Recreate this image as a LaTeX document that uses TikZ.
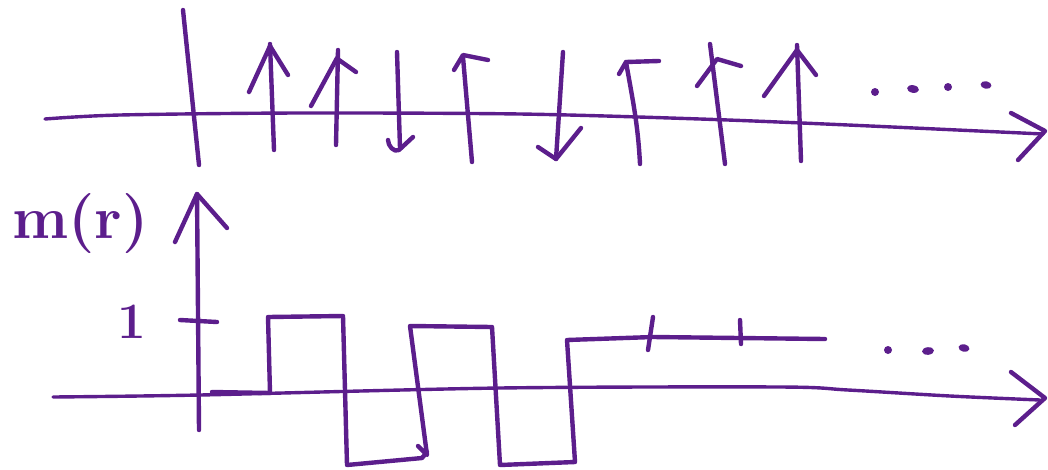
\documentclass[tikz,border=0pt]{standalone}
\definecolor{ink}{RGB}{92,30,140}
\begin{document}
\begin{tikzpicture}[x=1pt,y=-1pt,
  pen/.style={draw=ink,line width=4.4pt,line cap=round,line join=round},
  axis/.style={draw=ink,line width=3.4pt,line cap=round,line join=round},
  lbl/.style={text=ink,inner sep=0pt,anchor=base}]
\useasboundingbox (0,0) rectangle (1048,469);
% ---------- top panel ----------
\draw[axis] plot[smooth,tension=0.5] coordinates {(45,119) (120,115) (300,113) (520,114) (700,119) (848,125) (1043,134)};
\coordinate (ttip) at (1045,131);
\draw[pen] (1011,113) -- (ttip) -- (1018,160);
\draw[pen] (183,10) -- (199,165);
% spins
\draw[pen] (274,150) -- (270,44);
\draw[pen] (249,92) -- (270,46) -- (288,75);
\draw[pen] (336,145) -- (338,50);
\draw[pen] (311,106) -- (337,58);
\draw[pen] (339,60) -- (356,72);
\draw[pen] (397,52) -- (400,148);
\draw[pen] (388,140) to[out=-90,in=-150] (399,150) -- (413,137);
\draw[pen] (472,162) -- (463,57);
\draw[pen] (454,70) -- (463,55) -- (488,60);
\draw[pen] (563,52) -- (556,159);
\draw[pen] (538,147) -- (556,159) -- (581,128);
\draw[pen] (640,164) to[out=93,in=-80] (626,62) -- (659,61);
\draw[pen] (619,74) -- (626,62);
\draw[pen] (725,164) -- (710,44);
\draw[pen] (697,86) -- (717,59) -- (741,66);
\draw[pen] (801,161) -- (797,45);
\draw[pen] (764,96) -- (797,50) -- (816,75);
% dots
\fill[ink] (875,92) circle (4);
\fill[ink, rotate around={-10:(913,89)}] (913,89) ellipse (6 and 3.8);
\fill[ink] (948,87) circle (4);
\fill[ink, rotate around={-10:(986,85)}] (986,85) ellipse (5.5 and 3.8);
% ---------- bottom panel ----------
\node[lbl,anchor=base west] (mr) at (12,238) {\fontsize{60}{60}\selectfont\bfseries m(r)};
\draw[axis] plot[smooth,tension=0.5] coordinates {(53,397) (200,395) (500,388) (780,387) (848,390) (950,396) (1040,400)};
\coordinate (btip) at (1045,398);
\draw[pen] (1011,372) -- (btip) -- (1015,425);
\coordinate (ytip) at (197,194);
\draw[pen] (199,430) -- (ytip);
\draw[pen] (175,242) -- (ytip) -- (227,228);
\draw[pen] (180,320) -- (217,322);
\node[lbl] (one) at (132,338) {\fontsize{51}{51}\selectfont\bfseries 1};
% m(r) signal
\draw[pen] (212,392) -- (270,393) -- (268,317) -- (343,316) -- (347,465) -- (422,458) -- (427,452);
\draw[pen] (418,446) -- (427,455) -- (410,326) -- (492,327) -- (500,465) -- (575,462) -- (567,340) -- (653,337) -- (825,339);
\draw[pen] (653,317) -- (648,350);
\draw[pen] (740,320) -- (741,344);
\fill[ink] (888,350) circle (4);
\fill[ink, rotate around={5:(928,351)}] (928,351) ellipse (6 and 3.8);
\fill[ink, rotate around={-12:(964,348)}] (964,348) ellipse (5.5 and 3.8);
\end{tikzpicture}
\end{document}
